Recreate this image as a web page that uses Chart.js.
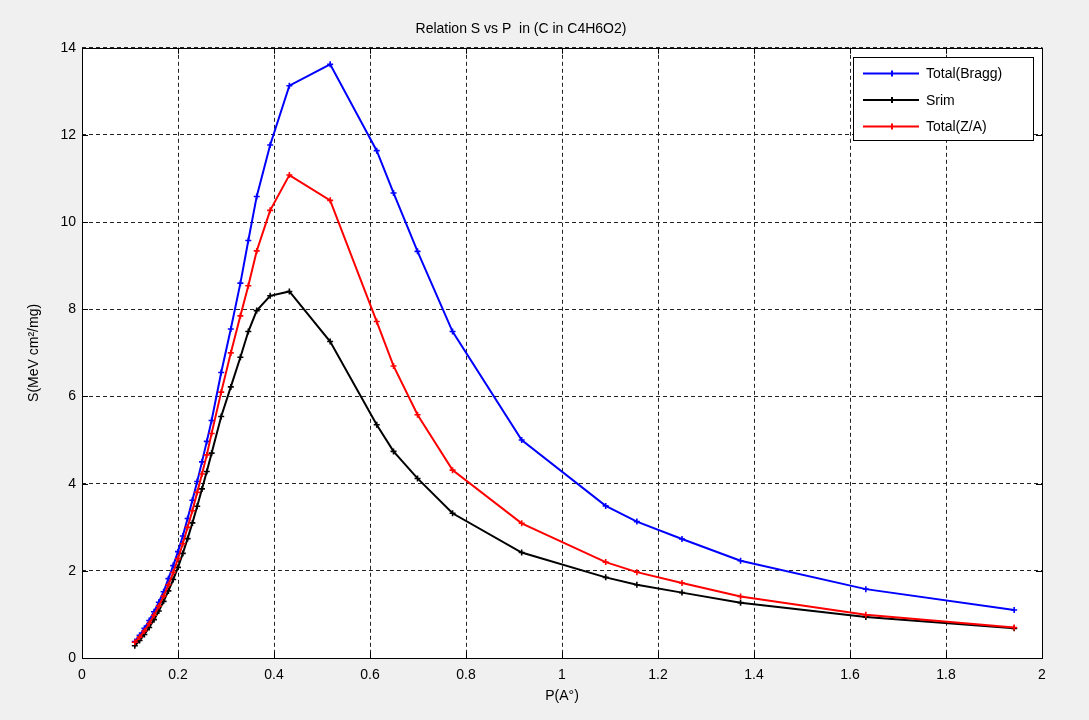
<!DOCTYPE html>
<html>
<head>
<meta charset="utf-8">
<title>Relation S vs P</title>
<script src="https://cdn.jsdelivr.net/npm/chart.js@4.4.1/dist/chart.umd.min.js"></script>
<style>
  html, body { margin: 0; padding: 0; background: #f0f0f0; }
  #wrap { width: 1089px; height: 720px; }
</style>
</head>
<body>
<div id="wrap"><canvas id="c-sp" width="1089" height="720"></canvas></div>
<script>
// P(A°) values shared by all three curves
const pValues = [0.11, 0.12, 0.13, 0.14, 0.15, 0.16, 0.17, 0.18, 0.19, 0.2, 0.21, 0.22, 0.23, 0.24, 0.25, 0.26, 0.27,
  0.29, 0.31, 0.33, 0.3465, 0.364, 0.392, 0.432, 0.517, 0.614, 0.649, 0.699, 0.772, 0.916, 1.091, 1.156, 1.25, 1.372, 1.633, 1.942];

// S(MeV cm2/mg)
const braggS = [0.38, 0.52, 0.68, 0.86, 1.06, 1.28, 1.52, 1.82, 2.12, 2.44, 2.8, 3.2, 3.62, 4.05, 4.5, 4.97, 5.45,
  6.55, 7.55, 8.6, 9.58, 10.59, 11.77, 13.13, 13.62, 11.64, 10.67, 9.33, 7.49, 5.0, 3.49, 3.13, 2.73, 2.23, 1.58, 1.1];
const srimS = [0.28, 0.4, 0.54, 0.7, 0.88, 1.08, 1.3, 1.54, 1.8, 2.08, 2.4, 2.74, 3.1, 3.48, 3.88, 4.28, 4.7,
  5.54, 6.22, 6.9, 7.49, 7.97, 8.31, 8.41, 7.26, 5.35, 4.74, 4.12, 3.32, 2.42, 1.85, 1.68, 1.5, 1.27, 0.94, 0.68];
const zaS = [0.36, 0.48, 0.62, 0.79, 0.98, 1.19, 1.42, 1.68, 1.96, 2.28, 2.62, 3.0, 3.38, 3.8, 4.22, 4.66, 5.15,
  6.1, 7.0, 7.85, 8.54, 9.34, 10.27, 11.08, 10.5, 7.72, 6.7, 5.58, 4.31, 3.09, 2.2, 1.97, 1.72, 1.41, 0.99, 0.7];

const seriesLabels = ['Total(Bragg)', 'Srim', 'Total(Z/A)'];
const seriesColors = ['#0000ff', '#000000', '#ff0000'];

const xTickValues = [0, 0.2, 0.4, 0.6, 0.8, 1, 1.2, 1.4, 1.6, 1.8, 2];
const xTickLabels = ['0', '0.2', '0.4', '0.6', '0.8', '1', '1.2', '1.4', '1.6', '1.8', '2'];
const yTickValues = [0, 2, 4, 6, 8, 10, 12, 14];
const yTickLabels = ['0', '2', '4', '6', '8', '10', '12', '14'];

const FONT = "'Liberation Sans', Arial, sans-serif";

function toPoints(ys) {
    return pValues.map((p, i) => ({ x: p, y: ys[i] }));
}

// gray figure background + white axes area
const bgPlugin = {
    id: 'bgPlugin',
    beforeDraw(chart) {
        const { ctx, chartArea: a } = chart;
        ctx.save();
        ctx.fillStyle = '#f0f0f0';
        ctx.fillRect(0, 0, chart.width, chart.height);
        ctx.fillStyle = '#ffffff';
        ctx.fillRect(a.left, a.top, a.right - a.left, a.bottom - a.top);
        ctx.restore();
    }
};

// solid box round the axes with inward ticks like matlab
const framePlugin = {
    id: 'framePlugin',
    afterDraw(chart) {
        const { ctx, chartArea: a, scales } = chart;
        ctx.save();
        ctx.strokeStyle = '#000';
        ctx.lineWidth = 1;
        ctx.beginPath();
        xTickValues.forEach(v => {
            const px = Math.round(scales.x.getPixelForValue(v)) + 0.5;
            ctx.moveTo(px, a.bottom); ctx.lineTo(px, a.bottom - 6);
            ctx.moveTo(px, a.top); ctx.lineTo(px, a.top + 6);
        });
        yTickValues.forEach(v => {
            const py = Math.round(scales.y.getPixelForValue(v)) + 0.5;
            ctx.moveTo(a.left, py); ctx.lineTo(a.left + 6, py);
            ctx.moveTo(a.right, py); ctx.lineTo(a.right - 6, py);
        });
        ctx.stroke();
        ctx.strokeRect(Math.round(a.left) + 0.5, Math.round(a.top) + 0.5, Math.round(a.right - a.left), Math.round(a.bottom - a.top));
        ctx.restore();
    }
};

// legend box in the top right corner of the axes
const legendBox = {
    id: 'legendBox',
    afterDraw(chart) {
        const { ctx, chartArea: a } = chart;
        const w = 180, h = 83;
        const x = Math.round(a.right) - 189, y = Math.round(a.top) + 9;
        ctx.save();
        ctx.fillStyle = '#fff';
        ctx.fillRect(x, y, w, h);
        ctx.strokeStyle = '#000';
        ctx.lineWidth = 1;
        ctx.strokeRect(x + 0.5, y + 0.5, w, h);
        ctx.font = '14px ' + FONT;
        ctx.textBaseline = 'middle';
        chart.data.datasets.forEach((ds, i) => {
            const ry = y + 16.5 + i * 26.5;
            ctx.strokeStyle = ds.borderColor;
            ctx.lineWidth = 2;
            ctx.beginPath();
            ctx.moveTo(x + 10, ry); ctx.lineTo(x + 66, ry);
            ctx.moveTo(x + 39, ry - 3); ctx.lineTo(x + 39, ry + 3);
            ctx.stroke();
            ctx.fillStyle = '#000';
            ctx.fillText(ds.label, x + 73, ry + 1);
        });
        ctx.restore();
    }
};

function makeDataset(i, ys) {
    return {
        label: seriesLabels[i],
        data: toPoints(ys),
        borderColor: seriesColors[i],
        backgroundColor: seriesColors[i],
        borderWidth: 2,
        pointStyle: 'cross',
        pointRadius: 3,
        pointBorderWidth: 1.6,
        showLine: true,
        tension: 0,
        order: 2 - i
    };
}

function initChart() {
    const ctx = document.getElementById('c-sp');
    new Chart(ctx, {
        type: 'scatter',
        data: {
            datasets: [makeDataset(0, braggS), makeDataset(1, srimS), makeDataset(2, zaS)]
        },
        options: {
            responsive: false,
            animation: false,
            devicePixelRatio: 1,
            layout: { padding: { left: 0, right: 47, top: 0, bottom: 0 } },
            plugins: {
                legend: { display: false },
                tooltip: { enabled: false },
                title: {
                    display: true,
                    text: 'Relation S vs P  in (C in C4H6O2)',
                    color: '#000',
                    font: { family: FONT, size: 14, weight: 'normal' },
                    padding: { top: 21, bottom: 10 }
                }
            },
            scales: {
                x: {
                    type: 'linear',
                    min: 0,
                    max: 2,
                    afterFit: s => { s.height = 62; },
                    afterBuildTicks: s => { s.ticks = xTickValues.map(v => ({ value: v })); },
                    ticks: {
                        color: '#000',
                        font: { family: FONT, size: 14 },
                        padding: 9,
                        maxRotation: 0,
                        autoSkip: false,
                        callback: (v, i) => xTickLabels[i]
                    },
                    grid: { color: '#222', lineWidth: 1, drawTicks: false },
                    border: { display: false, dash: [4, 3] },
                    title: {
                        display: true,
                        text: 'P(A°)',
                        color: '#000',
                        font: { family: FONT, size: 14 },
                        padding: { top: 0, bottom: 15 }
                    }
                },
                y: {
                    type: 'linear',
                    min: 0,
                    max: 14,
                    afterFit: s => { s.width = 82; },
                    afterBuildTicks: s => { s.ticks = yTickValues.map(v => ({ value: v })); },
                    ticks: {
                        color: '#000',
                        font: { family: FONT, size: 14 },
                        padding: 6,
                        autoSkip: false,
                        callback: (v, i) => yTickLabels[i]
                    },
                    grid: { color: '#222', lineWidth: 1, drawTicks: false },
                    border: { display: false, dash: [4, 3] },
                    title: {
                        display: true,
                        text: 'S(MeV cm²/mg)',
                        color: '#000',
                        font: { family: FONT, size: 14 },
                        padding: { top: 26, bottom: 0 }
                    }
                }
            }
        },
        plugins: [bgPlugin, framePlugin, legendBox]
    });
}

document.addEventListener('DOMContentLoaded', initChart);
</script>
</body>
</html>
